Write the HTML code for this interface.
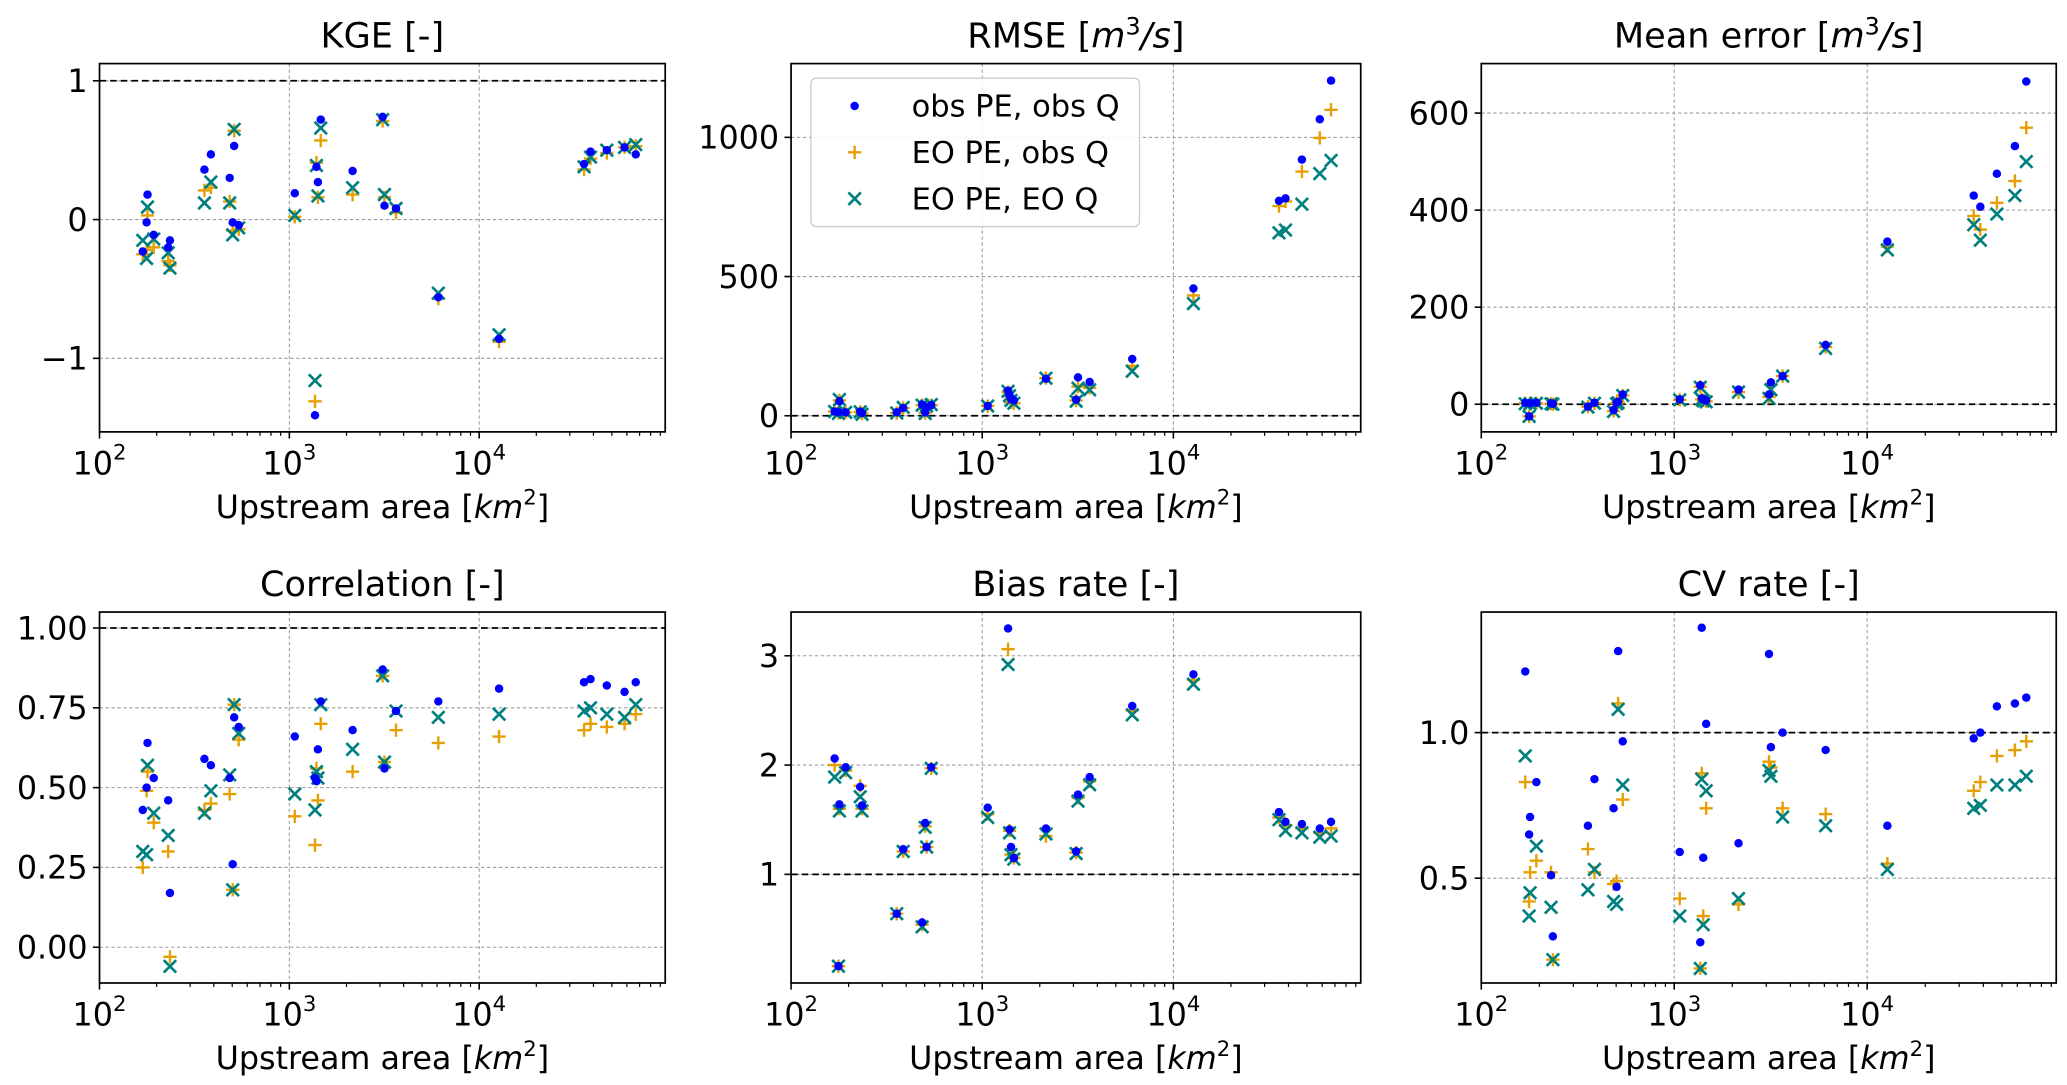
<!DOCTYPE html>
<html><head><meta charset="utf-8"><title>Hydrological metrics vs upstream area</title>
<style>
html,body{margin:0;padding:0;background:#fff;}
svg{display:block;font-family:"DejaVu Sans","Liberation Sans",sans-serif;}
</style></head>
<body>
<svg id="fig" width="2067" height="1085" viewBox="0 0 1560 819" xmlns="http://www.w3.org/2000/svg"></svg>
<script>
const areas = [169,177,179,193,230,235,357,386,485,503,512,541,1068,1365,1389,1414,1464,2154,3100,3170,3647,6093,12730,35680,38600,47030,58320,66800];

const kgeObs = [-0.23,-0.02,0.18,-0.11,-0.2,-0.15,0.36,0.47,0.30,-0.02,0.53,-0.04,0.19,-1.41,0.38,0.27,0.72,0.35,0.74,0.10,0.08,-0.56,-0.86,0.40,0.49,0.50,0.52,0.47];
const kgeEoPe = [-0.25,-0.22,0.03,-0.2,-0.3,-0.33,0.21,0.23,0.13,-0.08,0.64,-0.07,0.02,-1.31,0.41,0.16,0.57,0.18,0.71,0.16,0.05,-0.57,-0.88,0.36,0.44,0.48,0.52,0.53];
const kgeEoQ = [-0.15,-0.28,0.09,-0.14,-0.24,-0.35,0.12,0.27,0.12,-0.11,0.65,-0.06,0.03,-1.16,0.39,0.17,0.66,0.23,0.72,0.18,0.08,-0.53,-0.83,0.38,0.45,0.50,0.52,0.54];

const rmseObs = [15,12,52,12,15,10,12,28,40,12,30,38,35,90,75,60,55,133,58,138,121,204,457,772,781,920,1065,1204];
const rmseEoPe = [15,10,55,12,14,8,10,28,38,10,30,38,35,85,70,48,45,135,55,105,100,179,432,753,770,877,998,1099];
const rmseEoQ = [15,8,58,12,14,5,10,30,38,8,35,40,35,88,72,55,45,135,52,99,93,160,403,657,667,760,870,917];

const meObs = [3,-25,2,3,2,1,-5,3,-12,3,5,20,10,39,12,10,8,30,20,45,58,122,335,430,407,475,532,665];
const meEoPe = [2,-25,2,2,1,0,-5,2,-14,2,4,18,9,36,10,8,6,25,15,40,58,118,325,388,360,415,460,570];
const meEoQ = [1,-25,1,2,1,0,-6,2,-15,1,3,18,9,35,10,7,5,25,12,30,58,115,318,370,338,392,430,500];

const corrObs = [0.43,0.50,0.64,0.53,0.46,0.17,0.59,0.57,0.53,0.26,0.72,0.69,0.66,0.53,0.52,0.62,0.77,0.68,0.87,0.56,0.74,0.77,0.81,0.83,0.84,0.82,0.80,0.83];
const corrEoPe = [0.25,0.49,0.55,0.39,0.30,-0.03,0.43,0.45,0.48,0.18,0.76,0.65,0.41,0.32,0.56,0.46,0.70,0.55,0.85,0.58,0.68,0.64,0.66,0.68,0.70,0.69,0.70,0.73];
const corrEoQ = [0.30,0.29,0.57,0.42,0.35,-0.06,0.42,0.49,0.54,0.18,0.76,0.67,0.48,0.43,0.55,0.53,0.76,0.62,0.85,0.58,0.74,0.72,0.73,0.74,0.75,0.73,0.72,0.76];

const biasObs = [2.06,0.16,1.64,1.98,1.8,1.63,0.64,1.23,0.56,1.47,1.25,1.98,1.61,3.25,1.41,1.25,1.15,1.42,1.21,1.73,1.89,2.54,2.83,1.57,1.48,1.46,1.42,1.48];
const biasEoPe = [2.0,0.16,1.6,1.95,1.81,1.6,0.64,1.21,0.54,1.44,1.25,1.97,1.55,3.06,1.4,1.18,1.15,1.35,1.2,1.7,1.85,2.5,2.78,1.52,1.45,1.42,1.38,1.42];
const biasEoQ = [1.89,0.16,1.58,1.93,1.71,1.58,0.64,1.21,0.52,1.43,1.25,1.97,1.52,2.92,1.38,1.18,1.14,1.37,1.19,1.67,1.82,2.46,2.74,1.5,1.4,1.38,1.34,1.35];

const cvObs = [1.21,0.65,0.71,0.83,0.51,0.30,0.68,0.84,0.74,0.47,1.28,0.97,0.59,0.28,1.36,0.57,1.03,0.62,1.27,0.95,1.0,0.94,0.68,0.98,1.0,1.09,1.10,1.12];
const cvEoPe = [0.83,0.42,0.52,0.56,0.52,0.22,0.60,0.52,0.48,0.49,1.10,0.77,0.43,0.19,0.86,0.37,0.74,0.41,0.90,0.88,0.74,0.72,0.55,0.80,0.83,0.92,0.94,0.97];
const cvEoQ = [0.92,0.37,0.45,0.61,0.40,0.22,0.46,0.53,0.42,0.41,1.08,0.82,0.37,0.19,0.84,0.34,0.80,0.43,0.87,0.85,0.71,0.68,0.53,0.74,0.75,0.82,0.82,0.85];

const kgeTicks = [-1,0,1];
const kgeTickLabels = ["\u22121","0","1"];
const rmseTicks = [0,500,1000];
const rmseTickLabels = ["0","500","1000"];
const meTicks = [0,200,400,600];
const meTickLabels = ["0","200","400","600"];
const corrTicks = [0,0.25,0.5,0.75,1];
const corrTickLabels = ["0.00","0.25","0.50","0.75","1.00"];
const biasTicks = [1,2,3];
const biasTickLabels = ["1","2","3"];
const cvTicks = [0.5,1.0];
const cvTickLabels = ["0.5","1.0"];
const xDecades = [2,3,4];

const NS = "http://www.w3.org/2000/svg";
const svg = document.getElementById('fig');
function mk(tag, attrs, parent){
  const e = document.createElementNS(NS, tag);
  for (const k in attrs) e.setAttribute(k, attrs[k]);
  (parent||svg).appendChild(e);
  return e;
}

const panels = [
  {key:'kge', title:'KGE [-]', unit:false, box:[75,48,502,326], ylim:[-1.53,1.124], ref:1, ticks:kgeTicks, labels:kgeTickLabels, s:[kgeObs,kgeEoPe,kgeEoQ]},
  {key:'rmse', title:'RMSE [', unit:true, box:[597,48,1027,326], ylim:[-58,1265], ref:0, ticks:rmseTicks, labels:rmseTickLabels, s:[rmseObs,rmseEoPe,rmseEoQ], legend:true},
  {key:'mean-error', title:'Mean error [', unit:true, box:[1118,48,1552,326], ylim:[-57,702], ref:0, ticks:meTicks, labels:meTickLabels, s:[meObs,meEoPe,meEoQ]},
  {key:'correlation', title:'Correlation [-]', unit:false, box:[75,462,502,742], ylim:[-0.112,1.05], ref:1, ticks:corrTicks, labels:corrTickLabels, s:[corrObs,corrEoPe,corrEoQ]},
  {key:'bias-rate', title:'Bias rate [-]', unit:false, box:[597,462,1027,742], ylim:[0.006,3.4], ref:1, ticks:biasTicks, labels:biasTickLabels, s:[biasObs,biasEoPe,biasEoQ]},
  {key:'cv-rate', title:'CV rate [-]', unit:false, box:[1118,462,1552,742], ylim:[0.14,1.414], ref:1, ticks:cvTicks, labels:cvTickLabels, s:[cvObs,cvEoPe,cvEoQ]}
];
const XMIN = 2, XMAX = 4.98;
const BLUE = '#0000ff', ORANGE = '#e69f00', TEAL = '#007f7f';

function drawPlus(g, x, y){
  return mk('path', {d:`M${x-5},${y}H${x+5}M${x},${y-5}V${y+5}`, stroke:ORANGE, 'stroke-width':1.8, fill:'none'}, g);
}
function drawX(g, x, y){
  return mk('path', {d:`M${x-4.7},${y-4.7}L${x+4.7},${y+4.7}M${x-4.7},${y+4.7}L${x+4.7},${y-4.7}`, stroke:TEAL, 'stroke-width':2, fill:'none'}, g);
}
function drawDot(g, x, y){
  return mk('circle', {cx:x, cy:y, r:3.2, fill:BLUE}, g);
}

panels.forEach(p => {
  const [L,T,R,B] = p.box;
  const xs = v => L + (Math.log10(v) - XMIN) / (XMAX - XMIN) * (R - L);
  const ys = v => B - (v - p.ylim[0]) / (p.ylim[1] - p.ylim[0]) * (B - T);
  const g = mk('g', {});
  
  

  const t = mk('text', {x:(L+R)/2, y:T-12, 'text-anchor':'middle', 'font-size':26.5, fill:'#000'}, g);
  
  
  if (p.unit){
    t.appendChild(document.createTextNode(p.title));
    const i1 = mk('tspan', {'font-style':'italic'}, t); i1.textContent = 'm';
    const s1 = mk('tspan', {'font-size':18, dy:-10}, t); s1.textContent = '3';
    const i2 = mk('tspan', {'font-style':'italic', dy:10}, t); i2.textContent = '/s';
    const e1 = mk('tspan', {}, t); e1.textContent = ']';
  } else t.textContent = p.title;

  const grid = mk('g', {stroke:'#9a9a9a', 'stroke-width':0.8, 'stroke-dasharray':'2.5,2'}, g);
  
  
  xDecades.forEach(d => { const x = xs(Math.pow(10,d)); mk('line', {x1:x, x2:x, y1:T, y2:B}, grid); });
  p.ticks.forEach(v => { const y = ys(v); mk('line', {x1:L, x2:R, y1:y, y2:y}, grid); });

  const ry = ys(p.ref);
  const ref = mk('line', {x1:L, x2:R, y1:ry, y2:ry, stroke:'#000', 'stroke-width':1.3, 'stroke-dasharray':'5,3'}, g);
  
  

  const sp = mk('g', {}, g);
  
  
  const sx = mk('g', {}, g);
  
  
  const so = mk('g', {}, g);
  
  
  areas.forEach((a, i) => {
    const m1 = drawPlus(sp, xs(a), ys(p.s[1][i]));
    
    
  });
  areas.forEach((a, i) => {
    const m2 = drawX(sx, xs(a), ys(p.s[2][i]));
    
    
  });
  areas.forEach((a, i) => {
    const m0 = drawDot(so, xs(a), ys(p.s[0][i]));
    
    
  });

  const fr = mk('rect', {x:L, y:T, width:R-L, height:B-T, fill:'none', stroke:'#000', 'stroke-width':1.3}, g);
  
  

  const xa = mk('g', {}, g);
  
  
  for (let d = 2; d <= 4; d++){
    for (let m = 1; m <= 9; m++){
      const v = m * Math.pow(10, d);
      if (Math.log10(v) > XMAX) continue;
      const x = xs(v);
      mk('line', {x1:x, x2:x, y1:B, y2:B + (m===1?5:3), stroke:'#000', 'stroke-width':m===1?1.2:0.9}, xa);
    }
  }
  xDecades.forEach(d => {
    const lab = mk('text', {x:xs(Math.pow(10,d)), y:B+32, 'text-anchor':'middle', 'font-size':24}, xa);
    
    
    lab.appendChild(document.createTextNode('10'));
    const sup = mk('tspan', {'font-size':16, dy:-11}, lab); sup.textContent = String(d);
  });
  const xl = mk('text', {x:(L+R)/2, y:B+65, 'text-anchor':'middle', 'font-size':24}, xa);
  
  
  xl.appendChild(document.createTextNode('Upstream area ['));
  const km = mk('tspan', {'font-style':'italic'}, xl); km.textContent = 'km';
  const k2 = mk('tspan', {'font-size':16, dy:-10}, xl); k2.textContent = '2';
  const kc = mk('tspan', {dy:10}, xl); kc.textContent = ']';

  const ya = mk('g', {}, g);
  
  
  p.ticks.forEach((v, i) => {
    const y = ys(v);
    mk('line', {x1:L-5, x2:L, y1:y, y2:y, stroke:'#000', 'stroke-width':1.2}, ya);
    const tl = mk('text', {x:L-9, y:y+8.5, 'text-anchor':'end', 'font-size':24}, ya);
    
    
    tl.textContent = p.labels[i];
  });

  if (p.legend){
    const lg = mk('g', {}, g);
    
    
    mk('rect', {x:612, y:59, width:248, height:112, rx:4, fill:'#fff', 'fill-opacity':0.85, stroke:'#cccccc', 'stroke-width':1}, lg);
    const names = ['obs PE, obs Q','EO PE, obs Q','EO PE, EO Q'];
    names.forEach((n, i) => {
      const yy = 80 + i*35;
      if (i===0) drawDot(lg, 645, yy);
      if (i===1) drawPlus(lg, 645, yy);
      if (i===2) drawX(lg, 645, yy);
      const lt = mk('text', {x:688, y:yy+8, 'font-size':23}, lg);
      
      
      lt.textContent = n;
    });
  }
});
</script>
</body></html>
